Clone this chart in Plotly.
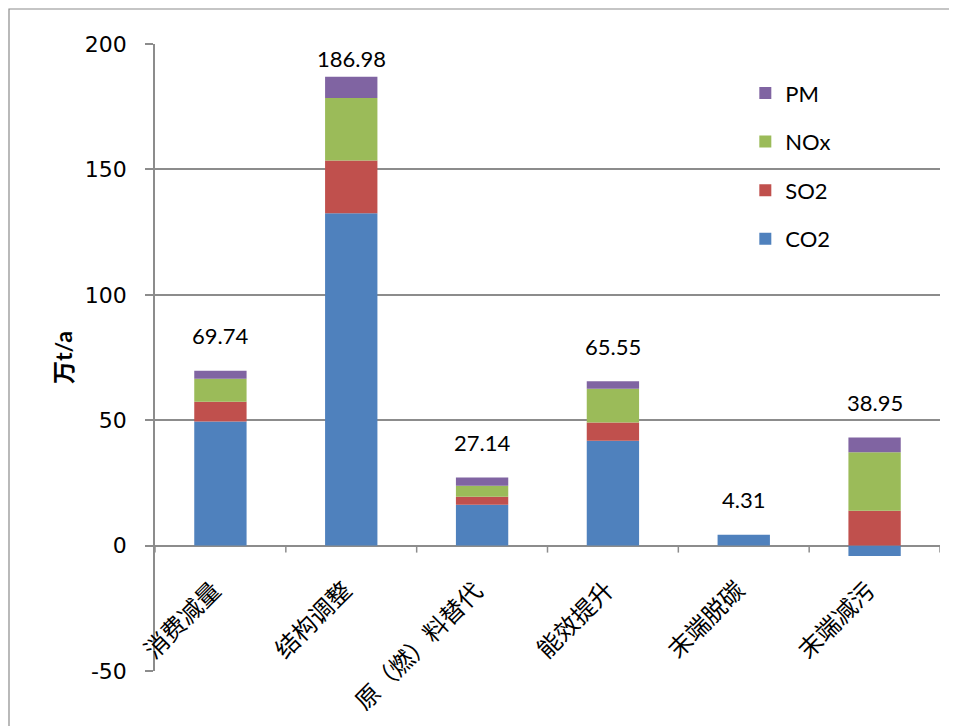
import plotly.graph_objects as go

categories = ["消费减量", "结构调整", "原（燃）料替代", "能效提升", "末端脱碳", "末端减污"]
co2 = [49.5, 132.5, 16.3, 41.8, 4.31, -4.15]
so2 = [7.9, 21.0, 3.2, 7.3, 0.0, 13.9]
nox = [9.1, 25.0, 4.4, 13.4, 0.0, 23.35]
pm = [3.24, 8.48, 3.24, 3.05, 0.0, 5.85]
totals = [69.74, 186.98, 27.14, 65.55, 4.31, 38.95]
y_ticks = [-50, 0, 50, 100, 150, 200]
y_tick_text = ["-50", "0", "50", "100", "150", "200"]

colors = {"CO2": "#4F81BD", "SO2": "#C0504D", "NOx": "#9BBB59", "PM": "#8064A2"}
GRID = "#8C8C8C"

# page body has an 8px margin; plot area should sit at page x 155..940, y 44..671
ML, MT = 147, 36
PW, PH = 785, 627
MR = 957 - ML - PW
MB = 726 - MT - PH

xs = list(range(len(categories)))
series = [("CO2", co2), ("SO2", so2), ("NOx", nox), ("PM", pm)]
fig = go.Figure()
for k, (name, vals) in enumerate(series):
    fig.add_trace(go.Bar(
        x=xs, y=vals, name=name, legendgroup=name, legendrank=1000 - k,
        marker=dict(color=colors[name], line=dict(width=0)),
    ))

annotations = []
for i in xs:
    pos_top = sum(v for v in (co2[i], so2[i], nox[i], pm[i]) if v > 0)
    shift = 35 if pos_top < 175 else 18
    annotations.append(dict(
        x=i, y=pos_top, xref="x", yref="y", text=f"{totals[i]:.2f}",
        showarrow=False, yshift=shift, xanchor="center", yanchor="middle",
        font=dict(family="Lato", size=22, color="#000000"),
    ))
for i, c in enumerate(categories):
    annotations.append(dict(
        x=i, y=0, xref="x", yref="y", text=c, showarrow=False,
        textangle=-45, xanchor="right", yanchor="top", xshift=10, yshift=-24,
        font=dict(family="Noto Sans CJK SC", size=24, color="#000000"),
    ))

shapes = []
for k in range(len(categories) + 1):
    shapes.append(dict(
        type="line", xref="x", yref="y", x0=k - 0.5, x1=k - 0.5,
        ysizemode="pixel", yanchor=0, y0=0, y1=-7,
        line=dict(color=GRID, width=1.5),
    ))
shapes.append(dict(
    type="rect", xref="paper", yref="paper",
    x0=(-ML + 1) / PW, x1=1.2, y0=-0.3, y1=(PH + MT - 1) / PH,
    line=dict(color="#8C8C8C", width=1.2), fillcolor="rgba(0,0,0,0)", layer="below",
))

fig.update_layout(
    width=957, height=726,
    margin=dict(l=ML, r=MR, t=MT, b=MB),
    paper_bgcolor="white", plot_bgcolor="white",
    barmode="relative", bargap=0.6,
    showlegend=True,
    legend=dict(
        x=0.752, y=0.955, xanchor="left", yanchor="top",
        traceorder="grouped", tracegroupgap=17,
        font=dict(family="Lato", size=22, color="#000000"),
        bgcolor="rgba(0,0,0,0)",
    ),
    xaxis=dict(
        range=[-0.5, len(categories) - 0.5], showticklabels=False,
        showgrid=False, zeroline=False, showline=False, ticks="",
    ),
    yaxis=dict(
        range=[-50, 200], tickvals=y_ticks, ticktext=y_tick_text,
        showgrid=True, gridcolor=GRID, gridwidth=1.5,
        zeroline=True, zerolinecolor=GRID, zerolinewidth=1.5,
        showline=True, linecolor=GRID, linewidth=1.5,
        ticks="outside", ticklen=8, tickcolor=GRID, tickwidth=1.5,
        ticklabelstandoff=14,
        tickfont=dict(family="DejaVu Sans", size=22, color="#000000"),
        title=dict(text="<b>万t/a</b>", standoff=6,
                   font=dict(family="Lato, Noto Sans CJK SC", size=23, color="#000000")),
    ),
    annotations=annotations,
    shapes=shapes,
)

fig.write_html("out.html")
